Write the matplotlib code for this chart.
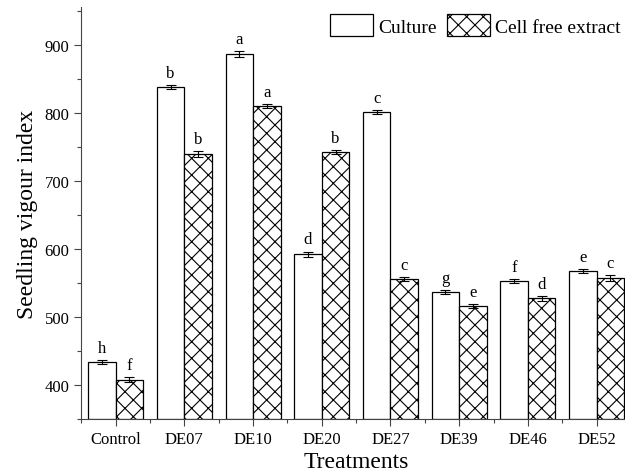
import matplotlib
matplotlib.use("Agg")
import matplotlib.pyplot as plt
from matplotlib.ticker import MultipleLocator
import numpy as np

plt.rcParams['font.family'] = ['Liberation Serif', 'DejaVu Serif']
plt.rcParams['hatch.linewidth'] = 0.8

treatments = ["Control", "DE07", "DE10", "DE20", "DE27", "DE39", "DE46", "DE52"]
culture = [434, 838, 886, 592, 801, 537, 553, 567]
culture_err = [3, 3, 5, 4, 3, 3, 3, 3]
cell_free = [408, 739, 810, 742, 556, 516, 527, 557]
cell_free_err = [4, 4, 3, 3, 3, 3, 3, 4]
culture_letters = ["h", "b", "a", "d", "c", "g", "f", "e"]
cell_free_letters = ["f", "b", "a", "b", "c", "e", "d", "c"]

fig = plt.figure(figsize=(6.25, 4.77), dpi=100)
ax = fig.add_axes([0.13, 0.1195, 0.8796, 0.8635])

x = np.arange(len(treatments))
w = 0.4
base = 350
ax.bar(x - w, np.array(culture) - base, width=w, bottom=base, align='edge',
       color='white', edgecolor='black', linewidth=0.9, label='Culture')
ax.bar(x, np.array(cell_free) - base, width=w, bottom=base, align='edge',
       color='white', edgecolor='black', hatch='xx', linewidth=0.9, label='Cell free extract')
ax.errorbar(x - w / 2, culture, yerr=culture_err, fmt='none', ecolor='black',
            elinewidth=0.8, capsize=3.5, capthick=0.8)
ax.errorbar(x + w / 2, cell_free, yerr=cell_free_err, fmt='none', ecolor='black',
            elinewidth=0.8, capsize=3.5, capthick=0.8)

for i in range(len(treatments)):
    ax.text(x[i] - w / 2, culture[i] + culture_err[i] + 6, culture_letters[i],
            ha='center', va='bottom', fontsize=12)
    ax.text(x[i] + w / 2, cell_free[i] + cell_free_err[i] + 6, cell_free_letters[i],
            ha='center', va='bottom', fontsize=12)

ax.set_xlim(-0.5, 7.5)
ax.set_ylim(350, 955)
ax.set_xticks(x)
ax.set_xticklabels(treatments, fontsize=12)
ax.xaxis.set_minor_locator(MultipleLocator(0.5))
ax.yaxis.set_major_locator(MultipleLocator(100))
ax.yaxis.set_minor_locator(MultipleLocator(50))
ax.tick_params(axis='y', labelsize=12)
ax.tick_params(which='major', direction='out', length=5, width=0.8, color='#444444')
ax.tick_params(which='minor', direction='out', length=3, width=0.8, color='#444444')
ax.set_yticks([400, 500, 600, 700, 800, 900])

for s in ['top', 'right']:
    ax.spines[s].set_visible(False)
for s in ['left', 'bottom']:
    ax.spines[s].set_color('#444444')
    ax.spines[s].set_linewidth(0.8)

ax.set_xlabel("Treatments", fontsize=17, labelpad=3)
ax.set_ylabel("Seedling vigour index", fontsize=17, labelpad=5)

fig.legend(loc='upper right', bbox_to_anchor=(1.006, 0.984), ncol=2, frameon=False,
           fontsize=14, handlelength=2.2, handleheight=1.3, columnspacing=0.5,
           handletextpad=0.3, borderaxespad=0.0)

fig.savefig("out.png", dpi=100)
